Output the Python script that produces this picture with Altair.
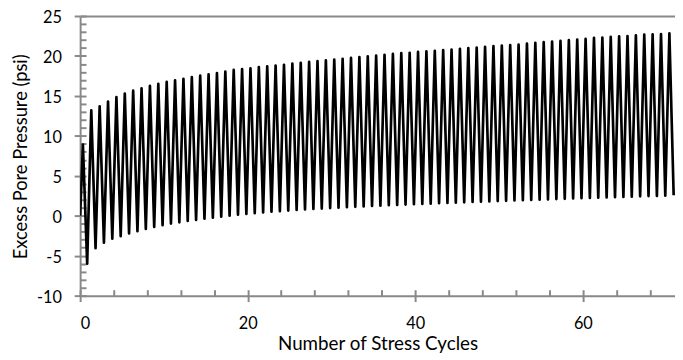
import altair as alt
import pandas as pd

# Per-cycle peak and trough excess pore pressure (psi)
cycles = list(range(71))
peak_values = [
    8.9, 13.2, 13.7, 14.3, 14.85, 15.3, 15.65, 15.95, 16.25, 16.5,
    16.75, 16.95, 17.15, 17.35, 17.55, 17.7, 17.85, 18.05, 18.25, 18.35,
    18.45, 18.6, 18.7, 18.8, 18.9, 19.05, 19.15, 19.25, 19.35, 19.45,
    19.55, 19.65, 19.75, 19.85, 19.95, 20.05, 20.15, 20.25, 20.35, 20.4,
    20.5, 20.57, 20.65, 20.73, 20.8, 20.9, 20.98, 21.06, 21.14, 21.23,
    21.31, 21.35, 21.43, 21.56, 21.64, 21.72, 21.8, 21.88, 21.97, 22.05,
    22.13, 22.26, 22.3, 22.38, 22.46, 22.5, 22.59, 22.67, 22.71, 22.75,
    22.83,
]
trough_values = [
    -6.0, -4.07, -3.37, -2.88, -2.55, -2.22, -1.93, -1.64, -1.39, -1.19,
    -0.98, -0.82, -0.65, -0.53, -0.36, -0.24, -0.12, 0.01, 0.13, 0.23,
    0.33, 0.42, 0.51, 0.58, 0.65, 0.72, 0.78, 0.84, 0.9, 0.96,
    1.02, 1.07, 1.12, 1.17, 1.22, 1.26, 1.31, 1.35, 1.4, 1.44,
    1.48, 1.52, 1.56, 1.6, 1.64, 1.68, 1.72, 1.76, 1.8, 1.84,
    1.87, 1.91, 1.95, 1.98, 2.02, 2.05, 2.09, 2.12, 2.16, 2.19,
    2.23, 2.26, 2.29, 2.33, 2.36, 2.39, 2.43, 2.46, 2.49, 2.52,
    2.56,
]
start_value = 0.0
peak_phase = 0.33
trough_phase = 0.84

x_major = [0, 20, 40, 60]
x_minor = list(range(0, 72, 4))
y_major = list(range(-10, 26, 5))
y_minor = list(range(-10, 26, 1))

rows = [{"cycle": 0.0, "pressure": start_value}]
for c, p, t in zip(cycles, peak_values, trough_values):
    rows.append({"cycle": c + peak_phase, "pressure": p})
    rows.append({"cycle": c + trough_phase, "pressure": t})
df = pd.DataFrame(rows)

gray = "#898989"
font = "Lato"
x_scale = alt.Scale(domain=[0, 71], nice=False, zero=False)
y_scale = alt.Scale(domain=[-10, 25], nice=False, zero=False)

base = alt.Chart(df)

line = base.mark_line(color="black", strokeWidth=2.7, strokeJoin="round", clip=True).encode(
    x=alt.X("cycle:Q", scale=x_scale,
            axis=alt.Axis(orient="bottom", values=x_major, title="Number of Stress Cycles",
                          labelExpr="'' + datum.value",
                          domainColor=gray, domainWidth=2, tickColor=gray, tickWidth=2, tickSize=6,
                          labelFont=font, labelFontSize=16.5, labelColor="black", labelPadding=14,
                          titleFont=font, titleFontSize=19, titleFontWeight="normal", titleColor="black",
                          titleBaseline="alphabetic", titleY=54.8, grid=False)),
    y=alt.Y("pressure:Q", scale=y_scale,
            axis=alt.Axis(orient="left", values=y_major, title="Excess Pore Pressure (psi)",
                          labelExpr="'' + datum.value",
                          domainColor=gray, domainWidth=2, tickColor=gray, tickWidth=2, tickSize=6,
                          labelFont=font, labelFontSize=16.5, labelColor="black", labelPadding=13,
                          labelOffset=2,
                          titleFont=font, titleFontSize=18.5, titleFontWeight="normal", titleColor="black",
                          titleBaseline="alphabetic", titleX=-54.5, titleY=142, grid=False)),
)

minor = base.mark_line(opacity=0).encode(
    x=alt.X("cycle:Q", scale=x_scale,
            axis=alt.Axis(orient="bottom", values=x_minor, labels=False, domain=False, title=None,
                          tickColor=gray, tickWidth=2, tickSize=6, offset=-6, grid=False)),
    y=alt.Y("pressure:Q", scale=y_scale,
            axis=alt.Axis(orient="left", values=y_minor, labels=False, domain=False, title=None,
                          tickColor=gray, tickWidth=2, tickSize=6, offset=-6, grid=False)),
)

top = base.mark_line(opacity=0).encode(
    x=alt.X("cycle:Q", scale=x_scale,
            axis=alt.Axis(orient="top", labels=False, ticks=False, domain=True, title=None,
                          domainColor=gray, domainWidth=2, grid=False)),
    y=alt.Y("pressure:Q", scale=y_scale, axis=None),
)

chart = alt.layer(minor, top, line).resolve_axis(
    x="independent", y="independent"
).properties(
    width=602, height=283,
    autosize=alt.AutoSizeParams(type="none"),
    padding={"left": 73, "top": 6, "right": 0, "bottom": 60},
).configure_view(stroke=None)

chart.save("out.html", embed_options={"renderer": "svg", "actions": False})
